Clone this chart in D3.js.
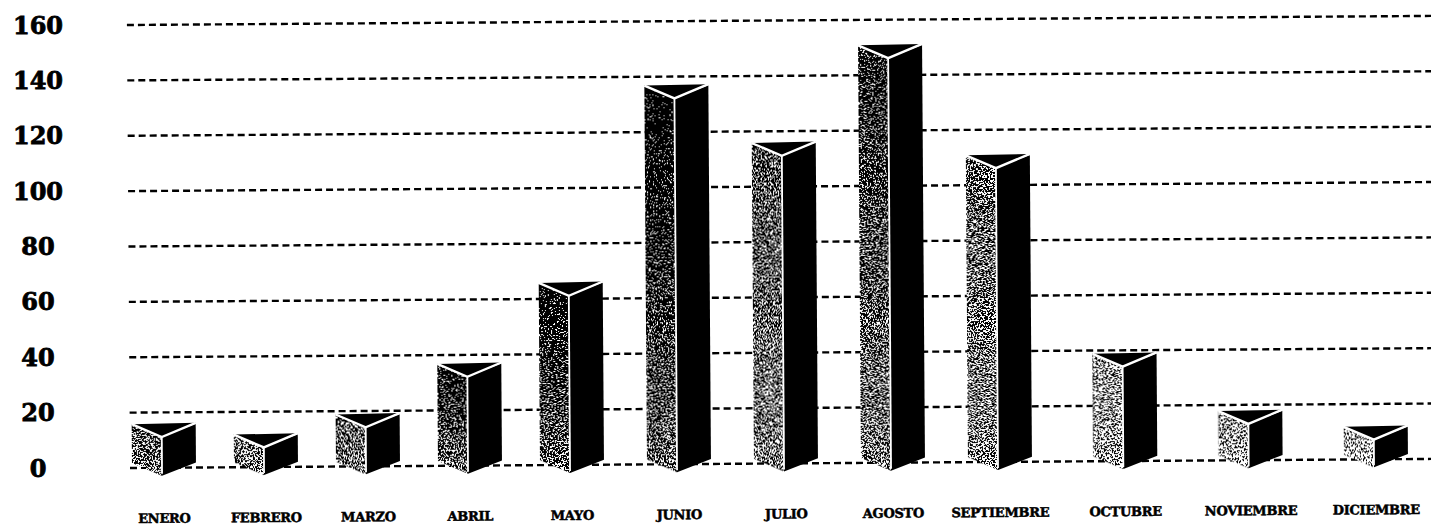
<!DOCTYPE html>
<html>
<head>
<meta charset="utf-8">
<script src="https://cdn.jsdelivr.net/npm/d3@7"></script>
<style>
  html, body { margin: 0; padding: 0; background: #fff; }
  svg { display: block; }
</style>
</head>
<body>
<svg id="chart" width="1431" height="528"></svg>
<script>
// Monthly totals
const months = ["ENERO", "FEBRERO", "MARZO", "ABRIL", "MAYO", "JUNIO",
                "JULIO", "AGOSTO", "SEPTIEMBRE", "OCTUBRE", "NOVIEMBRE", "DICIEMBRE"];
const counts = [14, 10, 17, 35, 64, 135, 114, 149, 109, 37, 16, 10];
const yTicks = [0, 20, 40, 60, 80, 100, 120, 140, 160];

// Stipple tone of each prism's lit face (top, bottom): 0 = black, 1 = white
const faceTones = [
  [0.42, 0.48], [0.48, 0.50], [0.42, 0.48], [0.15, 0.48], [0.15, 0.45], [0.08, 0.45],
  [0.38, 0.50], [0.25, 0.50], [0.42, 0.52], [0.55, 0.58], [0.55, 0.60], [0.60, 0.62]
];

const svg = d3.select("#chart");
const W = 1431, H = 528;
svg.append("rect").attr("width", W).attr("height", H).attr("fill", "#fff");

const y = d3.scaleLinear().domain([0, 160]).range([468, 25]);
// slot positions widen slightly toward the later months
const x = d3.scaleLinear().domain([0, 4, 8, 11]).range([164, 572, 1000, 1376]);

const defs = svg.append("defs");

// grainy stipple: grey level + noise, thresholded to black/white
const f = defs.append("filter").attr("id", "stipple")
  .attr("color-interpolation-filters", "sRGB")
  .attr("x", "-5%").attr("y", "-5%").attr("width", "110%").attr("height", "110%");
f.append("feTurbulence").attr("type", "fractalNoise").attr("baseFrequency", "0.65")
  .attr("numOctaves", 2).attr("seed", 7).attr("result", "noise");
f.append("feColorMatrix").attr("in", "noise").attr("type", "matrix")
  .attr("values", "2.4 0 0 0 -0.7  2.4 0 0 0 -0.7  2.4 0 0 0 -0.7  0 0 0 0 1")
  .attr("result", "grain");
f.append("feComposite").attr("in", "SourceGraphic").attr("in2", "grain")
  .attr("operator", "arithmetic").attr("k1", 0).attr("k2", 1).attr("k3", 1).attr("k4", -0.5)
  .attr("result", "sum");
const ct = f.append("feComponentTransfer").attr("in", "sum").attr("result", "bw");
["feFuncR", "feFuncG", "feFuncB"].forEach(fn =>
  ct.append(fn).attr("type", "discrete").attr("tableValues", "0 1"));
f.append("feComposite").attr("in", "bw").attr("in2", "SourceGraphic").attr("operator", "in");

months.forEach((m, i) => {
  const g = defs.append("linearGradient").attr("id", "tone" + i)
    .attr("x1", 0).attr("y1", 0).attr("x2", 0).attr("y2", 1);
  const grey = t => d3.rgb(t * 255, t * 255, t * 255).toString();
  g.append("stop").attr("offset", "0%").attr("stop-color", grey(faceTones[i][0]));
  g.append("stop").attr("offset", "100%").attr("stop-color", grey(faceTones[i][1]));
});

// Y tick labels
svg.append("g").selectAll("text").data(yTicks).join("text")
  .attr("x", 38).attr("y", d => y(d))
  .attr("text-anchor", "middle").attr("dominant-baseline", "central")
  .attr("font-family", "DejaVu Serif").attr("font-weight", "bold")
  .attr("font-size", 24).attr("fill", "#000")
  .attr("stroke", "#000").attr("stroke-width", 0.8)
  .text(d => d);

// plot body, slightly tilted
const plot = svg.append("g").attr("transform", "rotate(-0.4, 130, 468)");

plot.append("g").selectAll("line").data(yTicks).join("line")
  .attr("x1", 130).attr("x2", 1445)
  .attr("y1", d => y(d)).attr("y2", d => y(d))
  .attr("stroke", "#000").attr("stroke-width", 2.4).attr("stroke-dasharray", "7 4");

const leftW = 30, rightW = 34, back = 5, front = 8;

const bars = plot.append("g").selectAll("g").data(counts).join("g");

bars.each(function (v, i) {
  const g = d3.select(this);
  const cx = x(i);
  const L = cx - (leftW + rightW) / 2, M = L + leftW, R = M + rightW;
  const yt = y(v), y0 = y(0);
  const pts = a => a.map(p => p.join(",")).join(" ");

  g.append("polygon")
    .attr("points", pts([[L, yt - back], [M, yt + front], [M, y0 + front], [L, y0 - back]]))
    .attr("fill", `url(#tone${i})`).attr("filter", "url(#stipple)");
  g.append("polygon")
    .attr("points", pts([[M, yt + front], [R, yt - back], [R, y0 - back], [M, y0 + front]]))
    .attr("fill", "#000");
  g.append("polygon")
    .attr("points", pts([[L, yt - back], [R, yt - back - 1], [M, yt + front]]))
    .attr("fill", "#000");
  g.append("polyline")
    .attr("points", pts([[L, yt - back], [M, yt + front], [R, yt - back - 1]]))
    .attr("fill", "none").attr("stroke", "#fff").attr("stroke-width", 2.4)
    .attr("stroke-linejoin", "miter");
  g.append("line")
    .attr("x1", M).attr("x2", M).attr("y1", yt + front).attr("y2", y0 + front - 2)
    .attr("stroke", "#fff").attr("stroke-width", 1.8);
});

plot.append("g").selectAll("text").data(months).join("text")
  .attr("x", (d, i) => x(i)).attr("y", 523)
  .attr("text-anchor", "middle")
  .attr("font-family", "DejaVu Serif").attr("font-weight", "bold")
  .attr("font-size", 13).attr("letter-spacing", -0.3).attr("fill", "#000")
  .attr("stroke", "#000").attr("stroke-width", 0.5)
  .text(d => d);
</script>
</body>
</html>
